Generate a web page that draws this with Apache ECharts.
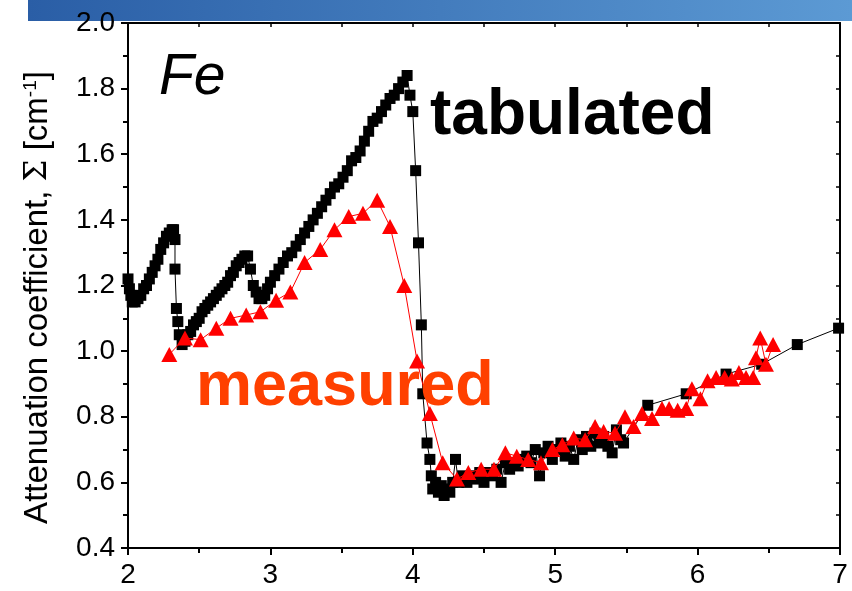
<!DOCTYPE html>
<html>
<head>
<meta charset="utf-8">
<script src="https://cdn.jsdelivr.net/npm/echarts@6/dist/echarts.min.js"></script>
<style>
  html, body { margin: 0; padding: 0; background: #fff; }
  #chart { width: 852px; height: 591px; }
</style>
</head>
<body>
<div id="chart"></div>
<script>
// Photon energy (x) and attenuation coefficient (y) for the tabulated Fe curve
var tabulatedE = [
  2.00, 2.01, 2.02, 2.03, 2.05, 2.07, 2.09, 2.11, 2.13, 2.15, 2.17, 2.19, 2.21, 2.23, 2.25, 2.27, 2.29, 2.31, 2.32, 2.33, 2.33, 2.34, 2.35, 2.36, 2.38,
  2.40, 2.42, 2.44, 2.46, 2.48, 2.50, 2.52, 2.54, 2.56, 2.58, 2.60, 2.62, 2.64, 2.66, 2.68, 2.70, 2.72, 2.74, 2.76, 2.78, 2.80, 2.82, 2.84, 2.86, 2.88, 2.90, 2.92, 2.94, 2.96, 2.98,
  3.00, 3.03, 3.06, 3.09, 3.12, 3.15, 3.18, 3.21, 3.24, 3.27, 3.30, 3.33, 3.36, 3.39, 3.42, 3.45, 3.48, 3.51, 3.54, 3.57, 3.60, 3.63, 3.66, 3.69, 3.72, 3.75, 3.78, 3.81, 3.84, 3.87, 3.90, 3.93, 3.96, 3.98, 4.00,
  4.02, 4.04, 4.06, 4.07, 4.10, 4.12,
  4.13, 4.14, 4.16, 4.18, 4.20, 4.22, 4.24, 4.26, 4.28, 4.30, 4.32, 4.35, 4.38, 4.41, 4.44, 4.47, 4.50, 4.53, 4.56, 4.59, 4.62, 4.65, 4.68, 4.71, 4.74, 4.77, 4.80, 4.83, 4.86, 4.89, 4.92, 4.95, 4.98, 5.01, 5.04, 5.07, 5.10, 5.13, 5.16, 5.19, 5.22, 5.25, 5.28, 5.31, 5.34, 5.37, 5.40, 5.43, 5.46, 5.48,
  5.65, 5.92, 6.20, 6.45, 6.70, 6.99
];
var tabulatedSigma = [
  1.22, 1.19, 1.17, 1.15, 1.15, 1.16, 1.17, 1.19, 1.20, 1.22, 1.24, 1.26, 1.28, 1.31, 1.33, 1.35, 1.36, 1.37, 1.37, 1.34, 1.25, 1.13, 1.09, 1.05, 1.02,
  1.03, 1.05, 1.06, 1.08, 1.09, 1.10, 1.12, 1.13, 1.14, 1.15, 1.16, 1.17, 1.18, 1.19, 1.20, 1.21, 1.23, 1.24, 1.26, 1.27, 1.28, 1.29, 1.29, 1.25, 1.20, 1.18, 1.16, 1.16, 1.17, 1.19,
  1.21, 1.23, 1.25, 1.27, 1.29, 1.30, 1.32, 1.34, 1.36, 1.38, 1.40, 1.42, 1.44, 1.46, 1.48, 1.50, 1.51, 1.53, 1.55, 1.58, 1.59, 1.61, 1.64, 1.67, 1.70, 1.71, 1.73, 1.75, 1.77, 1.78, 1.80, 1.82, 1.84, 1.78, 1.73,
  1.55, 1.33, 1.08, 0.87, 0.72, 0.67,
  0.62, 0.58, 0.60, 0.57, 0.59, 0.56, 0.58, 0.57, 0.60, 0.67, 0.60, 0.62, 0.60, 0.62, 0.61, 0.63, 0.60, 0.63, 0.62, 0.64, 0.60, 0.66, 0.64, 0.66, 0.65, 0.67, 0.68, 0.66, 0.70, 0.62, 0.69, 0.71, 0.67, 0.70, 0.72, 0.68, 0.71, 0.67, 0.73, 0.70, 0.74, 0.71, 0.75, 0.72, 0.74, 0.71, 0.69, 0.76, 0.73, 0.72,
  0.835, 0.87, 0.93, 0.96, 1.02, 1.07
];

// Measured points
var measuredE = [
  2.29, 2.40, 2.51, 2.62, 2.72, 2.83, 2.93, 3.04, 3.14, 3.24, 3.35, 3.45, 3.55, 3.65, 3.75, 3.84, 3.94, 4.03, 4.12, 4.21,
  4.31, 4.39, 4.48, 4.57, 4.65, 4.73, 4.81, 4.90, 4.98, 5.05, 5.13, 5.21, 5.28, 5.34, 5.42, 5.49, 5.55, 5.61, 5.68,
  5.75, 5.80, 5.86, 5.92, 5.96, 6.02, 6.07, 6.13, 6.19, 6.24, 6.29, 6.34, 6.39, 6.41, 6.44, 6.48, 6.53
];
var measuredSigma = [
  0.99, 1.04, 1.035, 1.07, 1.10, 1.11, 1.12, 1.155, 1.18, 1.27, 1.31, 1.37, 1.41, 1.42, 1.46, 1.38, 1.20, 0.97, 0.81, 0.66,
  0.61, 0.63, 0.64, 0.64, 0.69, 0.68, 0.67, 0.66, 0.70, 0.715, 0.735, 0.73, 0.77, 0.755, 0.75, 0.80, 0.77, 0.81, 0.795,
  0.825, 0.825, 0.82, 0.825, 0.885, 0.855, 0.91, 0.92, 0.92, 0.915, 0.935, 0.92, 0.92, 0.98, 1.04, 0.96, 1.02
];

// Axis ranges and tick steps
var xRange = [2, 7];
var yRange = [0.4, 2.0];
var xStep = 1;
var yStep = 0.2;

function pairs(xs, ys) {
  return xs.map(function (x, i) { return [x, ys[i]]; });
}

var FONT = "'Liberation Sans', Arial, sans-serif";
var chart = echarts.init(document.getElementById('chart'), null, { renderer: 'canvas' });

var frameLine = { show: true, onZero: false, lineStyle: { color: '#000', width: 2 } };

chart.setOption({
  animation: false,
  backgroundColor: '#fff',
  grid: { left: 128, right: 12, top: 23, bottom: 43 },
  xAxis: [
    {
      type: 'value', position: 'bottom', min: xRange[0], max: xRange[1], interval: xStep,
      axisLine: frameLine,
      axisTick: { show: true, inside: false, length: 7, lineStyle: { color: '#000', width: 2 } },
      minorTick: { show: true, splitNumber: 2, length: 5, lineStyle: { color: '#000', width: 2 } },
      axisLabel: { color: '#000', fontFamily: FONT, fontSize: 28, margin: 13 },
      splitLine: { show: false }
    },
    {
      type: 'value', position: 'top', min: xRange[0], max: xRange[1], interval: xStep / 2,
      axisLine: frameLine,
      axisTick: { show: true, inside: true, length: 4, lineStyle: { color: '#000', width: 1.5 } },
      axisLabel: { show: false },
      splitLine: { show: false }
    }
  ],
  yAxis: [
    {
      type: 'value', position: 'left', min: yRange[0], max: yRange[1], interval: yStep,
      axisLine: frameLine,
      axisTick: { show: true, inside: false, length: 7, lineStyle: { color: '#000', width: 2 } },
      minorTick: { show: true, splitNumber: 2, length: 5, lineStyle: { color: '#000', width: 2 } },
      axisLabel: {
        color: '#000', fontFamily: FONT, fontSize: 28, margin: 13,
        formatter: function (v) { return v.toFixed(1); }
      },
      splitLine: { show: false },
      name: 'Attenuation coefficient, {sig|Σ} [cm{sup|-1}]',
      nameLocation: 'middle',
      nameGap: 74,
      nameRotate: 90,
      nameTextStyle: {
        color: '#000', fontFamily: FONT, fontSize: 33,
        padding: [0, 24, 0, 0],
        rich: {
          sig: { fontFamily: "'DejaVu Serif', 'Liberation Serif', serif", fontSize: 31, color: '#000' },
          sup: { fontFamily: FONT, fontSize: 19, color: '#000', verticalAlign: 'top', padding: [0, 0, 12, 0] }
        }
      }
    },
    {
      type: 'value', position: 'right', min: yRange[0], max: yRange[1], interval: yStep / 2,
      axisLine: frameLine,
      axisTick: { show: true, inside: true, length: 4, lineStyle: { color: '#000', width: 1.5 } },
      axisLabel: { show: false },
      splitLine: { show: false }
    }
  ],
  graphic: [
    {
      type: 'rect', z: -10, silent: true,
      shape: { x: 28, y: 0, width: 824, height: 21 },
      style: {
        fill: new echarts.graphic.LinearGradient(0, 0, 1, 0, [
          { offset: 0, color: '#2a5ea6' },
          { offset: 1, color: '#5c9ad4' }
        ])
      }
    },
    {
      type: 'text', z: 100,
      style: { text: 'Fe', x: 159, y: 78, font: "italic 57px 'Liberation Sans', Arial, sans-serif", fill: '#000', textVerticalAlign: 'middle' }
    },
    {
      type: 'text', z: 100,
      style: { text: 'tabulated', x: 430, y: 116, font: "bold 64px 'Liberation Sans', Arial, sans-serif", fill: '#000', textVerticalAlign: 'middle' }
    },
    {
      type: 'text', z: 100,
      style: { text: 'measured', x: 196, y: 388, font: "bold 63px 'Liberation Sans', Arial, sans-serif", fill: '#ff4000', textVerticalAlign: 'middle' }
    }
  ],
  series: [
    {
      name: 'tabulated', type: 'line', xAxisIndex: 0, yAxisIndex: 0,
      data: pairs(tabulatedE, tabulatedSigma),
      showAllSymbol: true,
      symbol: 'rect', symbolSize: 11,
      itemStyle: { color: '#000' },
      lineStyle: { color: '#000', width: 1 },
      z: 2
    },
    {
      name: 'measured', type: 'line', xAxisIndex: 0, yAxisIndex: 0,
      data: pairs(measuredE, measuredSigma),
      showAllSymbol: true,
      symbol: 'triangle', symbolSize: [16, 15],
      itemStyle: { color: '#ff0000' },
      lineStyle: { color: '#ff0000', width: 1 },
      z: 3
    }
  ]
});
</script>
</body>
</html>
